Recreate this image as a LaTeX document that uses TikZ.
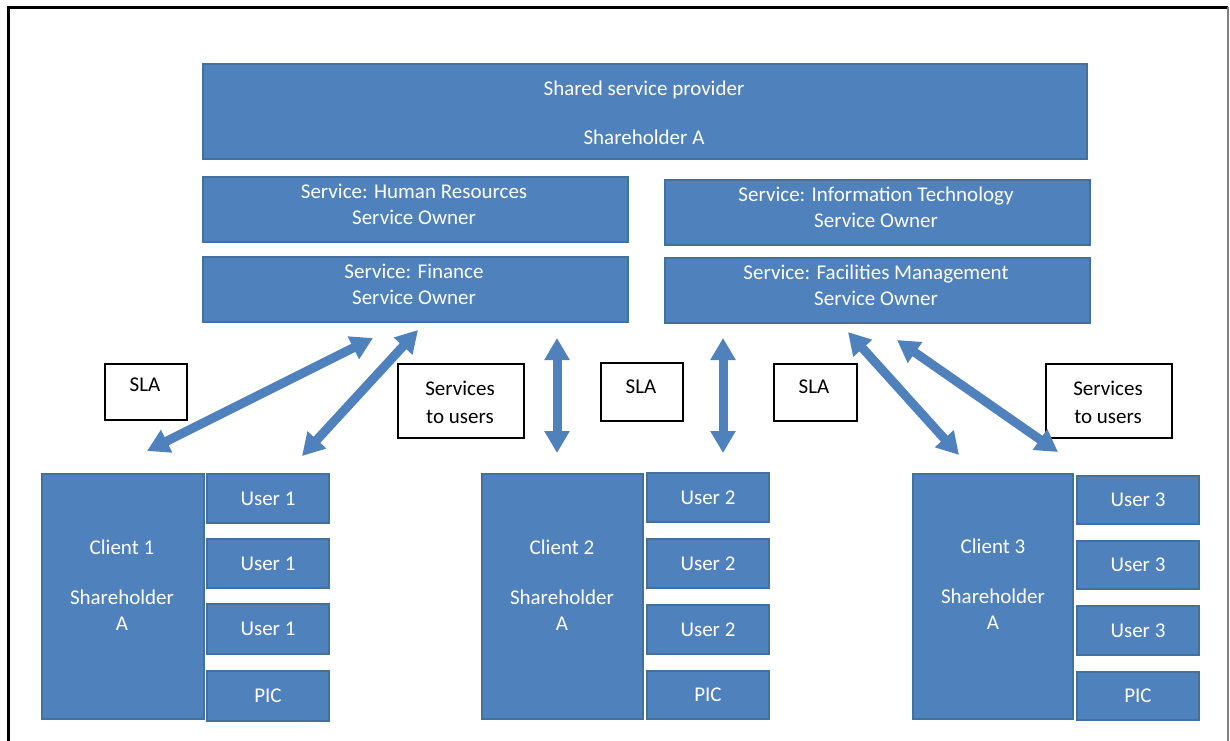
\documentclass[tikz,border=0pt]{standalone}
\usepackage{fontspec}
\setmainfont{Carlito}
\usetikzlibrary{arrows.meta}
\definecolor{boxblue}{HTML}{4F81BD}
\definecolor{boxedge}{HTML}{41719C}
\begin{document}
\begin{tikzpicture}[x=1pt,y=-1pt,
  bluebox/.style={draw=boxedge,fill=boxblue,line width=2pt,anchor=north west,inner sep=0pt},
  notebox/.style={draw=black,fill=white,line width=1.6pt,anchor=north west,inner sep=0pt},
  wtxt/.style={text=white,font=\fontsize{21}{26}\selectfont,align=center,inner sep=0pt},
  btxt/.style={text=black,font=\fontsize{21}{28}\selectfont,align=center,inner sep=0pt},
  link/.style={draw=boxblue,line width=9pt,{Triangle[width=24pt,length=22pt]}-{Triangle[width=24pt,length=22pt]}}]
\useasboundingbox (0,0) rectangle (1230,740);
\clip (0,0) rectangle (1230,740);

% page frame
\draw[line width=3pt] (8,745) -- (8,7) -- (1228,7);
\draw[gray,line width=1.5pt] (1228,7) -- (1228,745);

% provider and services
\node[bluebox,minimum width=884pt,minimum height=95pt] (prov) at (202,63) {};
\node[wtxt] (provt) at (644,112.5) {Shared service provider\\[23pt]Shareholder A};
\node[bluebox,minimum width=425pt,minimum height=65pt] (hr) at (202,176) {};
\node[wtxt] (hrt) at (414,204) {Service: Human Resources\\Service Owner};
\node[bluebox,minimum width=425pt,minimum height=65pt] (it) at (664,179) {};
\node[wtxt] (itt) at (876,207.5) {Service: Information Technology\\Service Owner};
\node[bluebox,minimum width=425pt,minimum height=65pt] (fin) at (202,256) {};
\node[wtxt] (fint) at (414,284) {Service: Finance\\Service Owner};
\node[bluebox,minimum width=425pt,minimum height=65pt] (fac) at (664,257) {};
\node[wtxt] (fact) at (876,285) {Service: Facilities Management\\Service Owner};

% notes
\node[notebox,minimum width=82pt,minimum height=56pt] (sla1) at (104,363) {};
\node[btxt] (sla1t) at (145,385) {SLA};
\node[notebox,minimum width=126pt,minimum height=74pt] (su1) at (397,363) {};
\node[btxt] (su1t) at (460,402) {Services\\to users};
\node[notebox,minimum width=82pt,minimum height=58pt] (sla2) at (600,362) {};
\node[btxt] (sla2t) at (641,387) {SLA};
\node[notebox,minimum width=83pt,minimum height=57pt] (sla3) at (773,363) {};
\node[btxt] (sla3t) at (814,387) {SLA};
\node[notebox,minimum width=126pt,minimum height=74pt] (su2) at (1045,363) {};
\node[btxt] (su2t) at (1108,402) {Services\\to users};

% clients
\node[bluebox,minimum width=162pt,minimum height=245pt] (c1) at (41,473) {};
\node[wtxt] (c1t) at (122,585) {Client 1\\[24pt]Shareholder\\A};
\node[bluebox,minimum width=161pt,minimum height=245pt] (c2) at (481,473) {};
\node[wtxt] (c2t) at (562,585.5) {Client 2\\[24pt]Shareholder\\A};
\node[bluebox,minimum width=160pt,minimum height=245pt] (c3) at (912,473) {};
\node[wtxt] (c3t) at (993,584) {Client 3\\[24pt]Shareholder\\A};

% users of client 1
\node[bluebox,minimum width=122pt,minimum height=49pt] (u1a) at (206,473) {};
\node[wtxt] at (u1a.center) {User 1};
\node[bluebox,minimum width=122pt,minimum height=49pt] (u1b) at (206,538) {};
\node[wtxt] at (u1b.center) {User 1};
\node[bluebox,minimum width=122pt,minimum height=50pt] (u1c) at (206,603) {};
\node[wtxt] at (u1c.center) {User 1};
\node[bluebox,minimum width=122pt,minimum height=50pt] (p1) at (206,670) {};
\node[wtxt] at (p1.center) {PIC};

% users of client 2
\node[bluebox,minimum width=122pt,minimum height=49pt] (u2a) at (646,472) {};
\node[wtxt] at (u2a.center) {User 2};
\node[bluebox,minimum width=122pt,minimum height=49pt] (u2b) at (646,538) {};
\node[wtxt] at (u2b.center) {User 2};
\node[bluebox,minimum width=122pt,minimum height=49pt] (u2c) at (646,604) {};
\node[wtxt] at (u2c.center) {User 2};
\node[bluebox,minimum width=122pt,minimum height=48pt] (p2) at (646,670) {};
\node[wtxt] at (p2.center) {PIC};

% users of client 3
\node[bluebox,minimum width=122pt,minimum height=48pt] (u3a) at (1076,475) {};
\node[wtxt] at (u3a.center) {User 3};
\node[bluebox,minimum width=122pt,minimum height=48pt] (u3b) at (1076,540) {};
\node[wtxt] at (u3b.center) {User 3};
\node[bluebox,minimum width=122pt,minimum height=49pt] (u3c) at (1076,605) {};
\node[wtxt] at (u3c.center) {User 3};
\node[bluebox,minimum width=122pt,minimum height=48pt] (p3) at (1076,671) {};
\node[wtxt] at (p3.center) {PIC};

% arrow ends
\coordinate (a1c) at (147,451);
\coordinate (a1s) at (373,338);
\coordinate (a2c) at (302,456);
\coordinate (a2s) at (418,330);
\coordinate (a3s) at (557,338);
\coordinate (a3c) at (557,453);
\coordinate (a4s) at (723,338);
\coordinate (a4c) at (723,453);
\coordinate (a5s) at (848,332);
\coordinate (a5c) at (959,455);
\coordinate (a6s) at (897,340);
\coordinate (a6c) at (1058,452);

\draw[link] (a1c) -- (a1s);
\draw[link] (a2c) -- (a2s);
\draw[link] (a3s) -- (a3c);
\draw[link] (a4s) -- (a4c);
\draw[link] (a5s) -- (a5c);
\draw[link] (a6s) -- (a6c);
\end{tikzpicture}
\end{document}
